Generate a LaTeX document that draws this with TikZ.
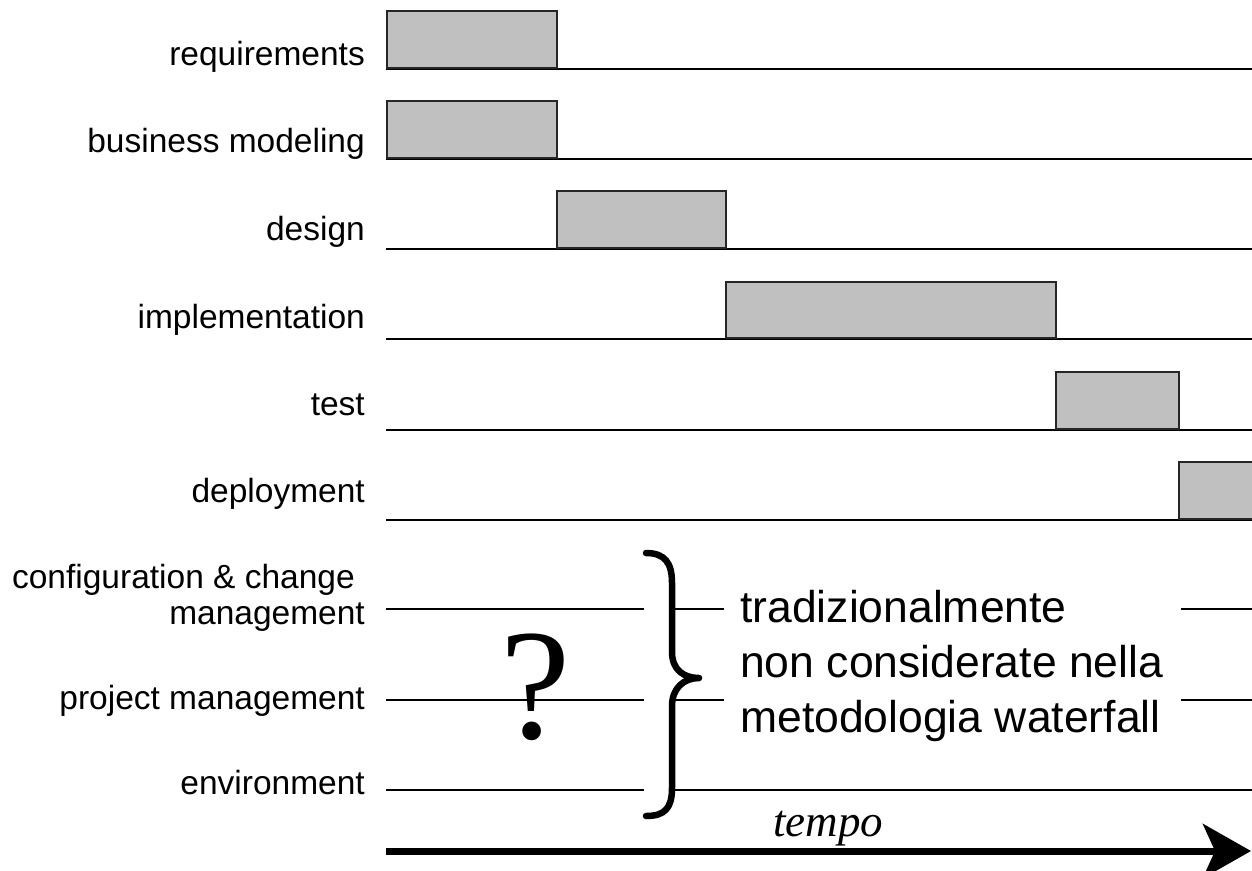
\documentclass[tikz,border=0pt]{standalone}
\usepackage{fontspec}
\setmainfont{Liberation Sans}
\newfontfamily\timesfont{Liberation Serif}
\usetikzlibrary{arrows.meta}
\definecolor{boxgray}{RGB}{192,192,192}
\begin{document}
\begin{tikzpicture}[x=1pt,y=-1pt,
  rowline/.style={line width=1.4pt},
  phase/.style={draw=black!85, line width=1.8pt, fill=boxgray, inner sep=0pt, anchor=south west},
  lab/.style={inner sep=0pt, anchor=base east, font=\fontsize{33.5}{36}\selectfont},
  bigtext/.style={inner sep=0pt, anchor=north west, align=left, font=\fontsize{44.5}{55}\selectfont},
]
\useasboundingbox (0,0) rectangle (1252,870);

% row lines
\foreach \y in {69,159,249,339,430,520}{
  \draw[rowline] (386,\y) -- (1252,\y);
}

% phase boxes
\node[phase, minimum width=170pt, minimum height=57pt] (bReq) at (386,69) {};
\node[phase, minimum width=170pt, minimum height=57pt] (bBus) at (386,159) {};
\node[phase, minimum width=169pt, minimum height=57pt] (bDes) at (556,249) {};
\node[phase, minimum width=330pt, minimum height=56pt] (bImp) at (725,339) {};
\node[phase, minimum width=123pt, minimum height=57pt] (bTest) at (1055,430) {};
\node[phase, minimum width=90pt, minimum height=57pt] (bDep) at (1178,520) {};

% labels
\node[lab] (lReq) at (365,65) {requirements};
\node[lab] (lBus) at (365,152) {business modeling};
\node[lab] (lDes) at (365,240) {design};
\node[lab] (lImp) at (365,328) {implementation};
\node[lab] (lTest) at (365,415) {test};
\node[lab] (lDep) at (365,502) {deployment};
\node[lab, anchor=south east, align=right] (lCfg) at (365,632) {configuration \& change\hspace*{10pt}\\ management};
\node[lab] (lPM) at (365,709) {project management};
\node[lab] (lEnv) at (365,794) {environment};

% lower lines
\draw[rowline] (386,609) -- (644,609);
\draw[rowline] (673,609) -- (724,609);
\draw[rowline] (1181,609) -- (1252,609);
\draw[rowline] (386,700) -- (644,700);
\draw[rowline] (673,700) -- (724,700);
\draw[rowline] (1181,700) -- (1252,700);
\draw[rowline] (386,790) -- (644,790);
\draw[rowline] (673,790) -- (1252,790);

% question mark
\node[inner sep=0pt, anchor=base, font=\timesfont\fontsize{158}{160}\selectfont] (qm) at (536,738) {?};

% brace
\draw[line width=6.5pt, line cap=round, line join=round]
  (646,553) .. controls (665,553) and (672,563) .. (672,583) -- (672,652)
  .. controls (672,670) and (684,678) .. (699,678)
  .. controls (684,678) and (672,688) .. (672,706) -- (672,788)
  .. controls (672,808) and (665,816) .. (646,816);

% explanation text
\node[bigtext] (expl) at (740,590) {tradizionalmente\\non considerate nella\\metodologia waterfall};

% time arrow
\coordinate (t0) at (386,851);
\coordinate (t1) at (1251,851);
\draw[line width=7pt, -{Stealth[length=48pt, width=54pt, inset=12pt]}] (t0) -- (t1);
\node[inner sep=0pt, anchor=base, font=\timesfont\itshape\fontsize{45}{48}\selectfont] (tempo) at (828,836) {tempo};
\end{tikzpicture}
\end{document}
